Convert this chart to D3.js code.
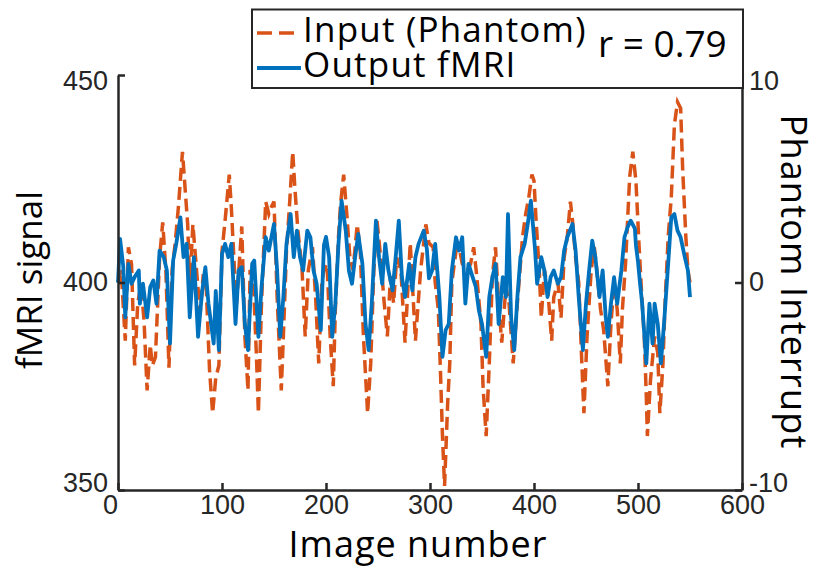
<!DOCTYPE html>
<html>
<head>
<meta charset="utf-8">
<script src="https://cdn.jsdelivr.net/npm/d3@7"></script>
<style>
  body { margin: 0; background: #fff; }
  .axis .domain { stroke: #262626; stroke-width: 2.5; }
  .axis .tick line { stroke: #262626; stroke-width: 2.5; }
  .axis .tick text { fill: #262626; font-family: "Liberation Sans", Arial, sans-serif; font-size: 27px; }
  .title { font-family: "Open Sans", sans-serif; fill: #000; }
</style>
</head>
<body>
<div id="chart"></div>
<script>
const width = 815;
const height = 567;

// Tick values
const xTicks = [0, 100, 200, 300, 400, 500, 600];
const leftTicks = [350, 400, 450];
const rightTicks = [-10, 0, 10];

// Input (Phantom) on right axis: [image number, interrupt value]
const inputPhantom = [
  [0, 0.0], [3, 0.6], [7, -2.8], [10, 1.7], [13, 0.9], [16, -4.0], [19, -1.0], [22, -0.1], [25, -1.8], [28, -5.2],
  [31, -3.0], [33, -4.0], [36, -3.6], [40, 1.2], [43, 2.9], [46, 0.6], [49, -4.1], [52, 0.6], [55, 1.9], [58, 3.6],
  [62, 6.3], [64, 4.9], [67, 2.8], [69, -0.1], [72, 2.8], [76, 0.3], [79, -1.5], [82, 0.4], [85, -0.4], [88, -4.2],
  [91, -6.3], [94, -4.6], [97, -4.0], [100, 1.5], [103, 3.0], [107, 5.2], [109, 3.6], [112, 0.6], [114, -1.0], [117, 1.2],
  [119, 2.7], [122, -2.6], [125, -5.2], [127, 0.6], [130, 0.3], [133, -3.4], [135, -6.3], [138, -1.0], [142, 3.9], [145, 3.3],
  [147, 3.6], [150, 3.9], [153, -0.7], [157, -5.2], [159, -2.6], [162, 1.5], [165, 3.8], [168, 6.3], [170, 4.6], [173, 2.5],
  [177, 0.6], [180, -2.6], [183, 0.6], [187, 1.7], [190, -0.7], [193, -3.9], [196, 0.0], [198, 0.6], [201, 0.9], [204, -2.6],
  [207, -5.0], [209, -1.3], [212, 2.2], [214, 3.8], [217, 5.2], [220, 3.3], [223, 1.2], [226, 0.6], [230, 2.8], [233, 1.5],
  [236, -2.6], [240, -6.3], [243, -3.9], [246, 0.6], [249, 3.0], [252, 1.5], [256, -1.0], [259, -2.6], [262, 0.3], [265, -1.0],
  [268, 1.2], [272, 0.6], [276, -2.9], [281, 1.9], [286, -2.8], [291, 0.6], [296, 2.8], [299, 1.9], [303, 1.7], [305, 0.0],
  [308, -1.3], [310, -4.2], [312, -7.4], [314, -9.8], [317, -5.8], [319, -3.9], [321, 0.0], [325, 1.5], [328, 1.7], [331, 0.9],
  [336, 0.6], [339, 0.9], [342, 1.7], [345, 0.3], [349, -2.0], [351, -5.0], [354, -7.4], [357, -3.9], [360, 0.3], [363, 1.7],
  [366, -1.0], [369, -2.9], [373, -0.2], [376, -1.0], [380, -3.9], [384, -1.0], [389, 2.2], [392, 3.3], [395, 4.1], [398, 5.2],
  [400, 4.9], [402, 3.0], [405, 0.6], [407, -1.7], [410, 0.6], [413, -0.2], [417, -2.8], [419, -0.7], [423, 0.0], [426, -1.7],
  [429, 1.2], [432, 2.2], [435, 3.9], [437, 3.0], [440, 1.2], [443, 0.0], [446, -3.9], [448, -6.3], [451, -2.6], [455, 0.6],
  [458, 1.7], [461, 0.3], [464, -1.3], [467, -2.3], [471, -5.0], [474, -2.0], [477, 0.0], [480, -1.3], [483, -3.9], [485, -1.3],
  [488, 0.9], [492, 5.1], [495, 6.3], [498, 4.9], [501, 1.8], [504, -1.0], [506, -2.6], [508, -5.5], [509, -7.4], [512, -4.7],
  [516, -2.6], [519, -3.4], [521, -6.3], [524, -3.9], [526, -1.0], [529, 2.2], [532, 4.1], [535, 7.6], [538, 8.7], [541, 8.4],
  [543, 5.4], [546, 2.2], [548, 0.6], [550, 0.0]
];

// Output fMRI on left axis: [image number, signal]
const outputFmri = [
  [0, 400.0], [2, 410.5], [5, 404.0], [7, 391.6], [10, 404.5], [13, 399.7], [16, 401.3], [20, 402.9], [21, 394.9], [24, 399.7],
  [28, 391.6], [31, 398.9], [34, 400.5], [37, 394.9], [40, 407.7], [44, 406.1], [47, 402.9], [50, 385.3], [53, 405.3], [56, 409.3],
  [60, 415.7], [63, 406.1], [66, 409.3], [69, 391.6], [73, 406.1], [77, 386.9], [81, 398.1], [84, 403.7], [87, 394.9], [92, 385.3],
  [94, 398.0], [97, 383.7], [100, 406.9], [103, 409.3], [106, 406.1], [109, 409.3], [113, 390.0], [116, 402.9], [119, 403.7], [122, 390.0],
  [125, 383.7], [129, 404.5], [131, 405.3], [135, 386.9], [138, 398.9], [142, 410.9], [145, 407.7], [150, 414.1], [153, 402.9], [156, 386.9],
  [159, 396.5], [162, 409.3], [166, 416.5], [169, 406.1], [172, 412.5], [175, 406.1], [178, 402.9], [182, 412.5], [185, 410.9], [188, 402.9],
  [191, 399.7], [195, 388.5], [198, 409.0], [200, 411.0], [203, 406.1], [206, 386.9], [209, 394.9], [212, 409.3], [215, 419.7], [219, 412.5],
  [222, 402.9], [225, 399.7], [228, 406.1], [231, 411.7], [235, 404.5], [238, 390.0], [241, 383.7], [244, 394.9], [248, 414.9], [251, 406.1],
  [254, 399.7], [257, 409.3], [260, 402.9], [264, 398.1], [267, 406.1], [270, 414.9], [273, 401.3], [276, 396.5], [280, 404.5], [283, 398.1],
  [286, 406.1], [289, 409.3], [294, 412.5], [297, 408.0], [299, 401.0], [302, 402.9], [305, 409.3], [309, 396.5], [312, 382.1], [315, 388.5],
  [318, 390.0], [321, 402.9], [325, 410.9], [328, 407.7], [331, 410.9], [334, 394.9], [337, 404.5], [341, 401.3], [344, 399.0], [347, 393.3],
  [350, 390.0], [354, 382.1], [357, 396.5], [360, 401.3], [363, 404.5], [366, 390.0], [370, 401.3], [373, 396.5], [375, 416.5], [378, 391.6],
  [381, 383.7], [384, 396.5], [387, 406.1], [391, 409.3], [394, 414.1], [397, 419.7], [401, 408.0], [403, 399.7], [407, 406.1], [410, 402.9],
  [413, 396.5], [416, 401.3], [419, 402.9], [423, 399.7], [426, 401.3], [429, 407.7], [432, 410.9], [437, 414.1], [440, 407.7], [443, 396.5],
  [447, 383.7], [450, 394.9], [453, 402.9], [456, 410.1], [459, 406.1], [463, 396.5], [466, 402.9], [469, 391.6], [471, 386.9], [474, 394.9],
  [477, 401.3], [480, 394.9], [484, 402.9], [487, 410.9], [490, 413.3], [493, 414.9], [497, 413.0], [498, 409.0], [500, 405.0], [502, 399.7],
  [504, 394.9], [508, 380.5], [511, 394.9], [514, 385.3], [516, 394.9], [519, 390.0], [522, 380.5], [525, 390.0], [529, 404.5], [532, 415.7],
  [535, 416.5], [538, 412.5], [541, 410.9], [545, 406.1], [548, 402.9], [550, 396.5]
];

const plotLeft = 118, plotRight = 742, plotTop = 75, plotBottom = 490;
const orange = "#D95319";
const blue = "#0072BD";

const svg = d3.select("#chart").append("svg")
    .attr("width", width)
    .attr("height", height);

const x = d3.scaleLinear().domain([0, 600]).range([plotLeft, plotRight]);
const yLeft = d3.scaleLinear().domain([350, 450]).range([plotBottom, plotTop]);
const yRight = d3.scaleLinear().domain([-10, 10]).range([plotBottom, plotTop]);

// Lines
const inputLine = d3.line().x(d => x(d[0])).y(d => yRight(d[1]));
const outputLine = d3.line().x(d => x(d[0])).y(d => yLeft(d[1]));

svg.append("path")
    .datum(inputPhantom)
    .attr("d", inputLine)
    .attr("fill", "none")
    .attr("stroke", orange)
    .attr("stroke-width", 3.5)
    .attr("stroke-dasharray", "13,6");

svg.append("path")
    .datum(outputFmri)
    .attr("d", outputLine)
    .attr("fill", "none")
    .attr("stroke", blue)
    .attr("stroke-width", 3.8)
    .attr("stroke-linejoin", "round");

// Axes (ticks point inward), plain hyphen for negatives
const fmt = d => String(d);

const gBottom = svg.append("g")
    .attr("class", "axis")
    .attr("transform", `translate(0,${plotBottom})`)
    .call(d3.axisBottom(x).tickValues(xTicks).tickFormat(fmt).tickSizeInner(-7).tickSizeOuter(0).tickPadding(5));
gBottom.selectAll(".tick text").attr("x", (d, i) => i === 0 ? -8 : 0);

const gLeft = svg.append("g")
    .attr("class", "axis")
    .attr("transform", `translate(${plotLeft},0)`)
    .call(d3.axisLeft(yLeft).tickValues(leftTicks).tickFormat(fmt).tickSizeInner(-7).tickSizeOuter(0).tickPadding(10));

const gRight = svg.append("g")
    .attr("class", "axis")
    .attr("transform", `translate(${plotRight},0)`)
    .call(d3.axisRight(yRight).tickValues(rightTicks).tickFormat(fmt).tickSizeInner(-7).tickSizeOuter(0).tickPadding(7));

// end labels sit a little inside the axis ends
[gLeft, gRight].forEach(g => {
  g.selectAll(".tick text").attr("y", (d, i) => i === 0 ? -7 : (i === 2 ? 6 : -1));
});

// Axis titles
svg.append("text")
    .attr("class", "title")
    .attr("transform", "translate(42,280) rotate(-90)")
    .attr("text-anchor", "middle")
    .style("font-size", "35px")
    .text("fMRI signal");

svg.append("text")
    .attr("class", "title")
    .attr("x", 418)
    .attr("y", 557)
    .attr("text-anchor", "middle")
    .style("font-size", "36px")
    .style("letter-spacing", "1px")
    .text("Image number");

svg.append("text")
    .attr("class", "title")
    .attr("transform", "translate(781,282) rotate(90)")
    .attr("text-anchor", "middle")
    .style("font-size", "36px")
    .style("letter-spacing", "1.2px")
    .text("Phantom Interrupt");

// Legend
const legend = svg.append("g");
legend.append("rect")
    .attr("x", 252).attr("y", 9.5)
    .attr("width", 491).attr("height", 78.5)
    .attr("fill", "#fff")
    .attr("stroke", "#262626")
    .attr("stroke-width", 2);

legend.append("line")
    .attr("x1", 257).attr("x2", 301).attr("y1", 33).attr("y2", 33)
    .attr("stroke", orange).attr("stroke-width", 3.5).attr("stroke-dasharray", "15,7");
legend.append("line")
    .attr("x1", 257).attr("x2", 301).attr("y1", 68).attr("y2", 68)
    .attr("stroke", blue).attr("stroke-width", 3.8);

legend.append("text")
    .attr("class", "title")
    .attr("x", 303).attr("y", 42)
    .style("font-size", "35px")
    .style("letter-spacing", "1.2px")
    .text("Input (Phantom)");
legend.append("text")
    .attr("class", "title")
    .attr("x", 303).attr("y", 77)
    .style("font-size", "35px")
    .style("letter-spacing", "1.2px")
    .text("Output fMRI");
legend.append("text")
    .attr("class", "title")
    .attr("x", 598).attr("y", 57)
    .style("font-size", "37px")
    .text("r = 0.79");
</script>
</body>
</html>
